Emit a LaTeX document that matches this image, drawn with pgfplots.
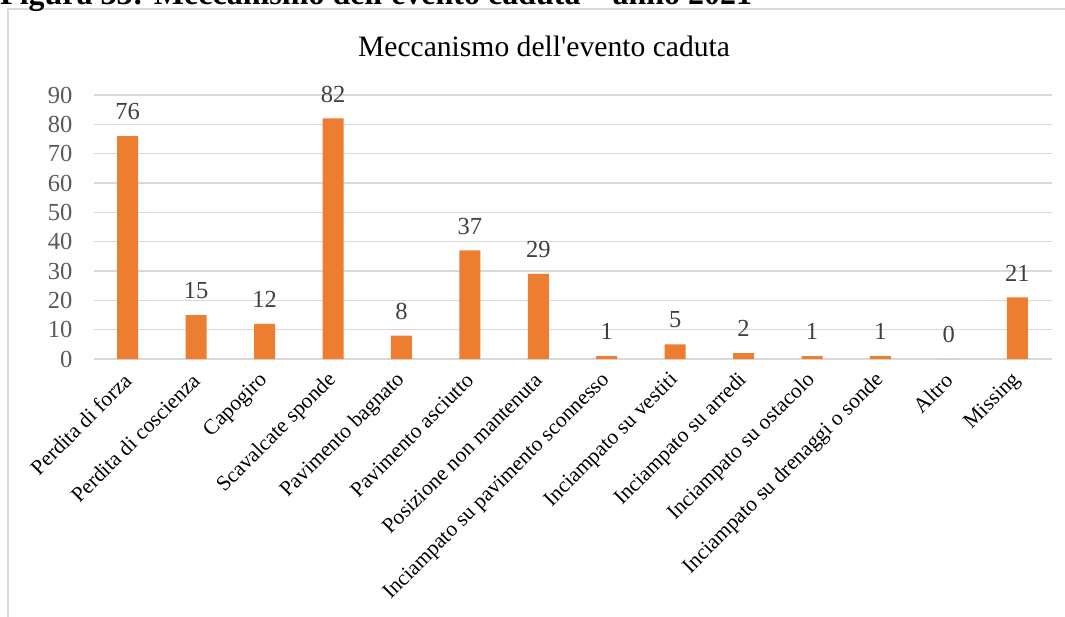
\documentclass[border=0pt]{standalone}
\usepackage{fontspec}
\setmainfont{Liberation Serif}[Ligatures=TeXOff]
\usepackage{pgfplots}
\pgfplotsset{compat=1.18}
\definecolor{barorange}{HTML}{ED7D31}
\definecolor{gridgray}{HTML}{D9D9D9}
\definecolor{ticktext}{HTML}{595959}
\definecolor{labeltext}{HTML}{404040}
\begin{document}
\begin{tikzpicture}
\useasboundingbox (0,0) rectangle (1065pt,-616pt);
\clip (0,0) rectangle (1065pt,-616pt);
\draw[gridgray, line width=1.3pt] (8pt,-9pt) rectangle (1080pt,-660pt);
\node[anchor=base west, inner sep=0pt, font=\bfseries\fontsize{32}{32}\selectfont] at (0pt,-4pt) {Figura 33: Meccanismo dell'evento caduta – anno 2021};
\node[anchor=base, inner sep=0pt, font=\fontsize{29.6}{30}\selectfont] at (544pt,-56pt) {Meccanismo dell'evento caduta};
\begin{axis}[
  at={(93.5pt,-359pt)}, anchor=south west,
  scale only axis, width=958pt, height=264pt,
  xmin=-0.5, xmax=13.5, ymin=0, ymax=90,
  ybar, bar width=21pt,
  axis x line*=bottom, axis y line*=left,
  x axis line style={gridgray, line width=1.3pt, -},
  y axis line style={draw=none},
  major tick length=0pt,
  ymajorgrids, grid style={gridgray, line width=1.3pt},
  ytick={0,10,...,90},
  /pgf/number format/assume math mode=true,
  yticklabel style={anchor=east, inner sep=0pt, xshift=-21pt, text=ticktext, font=\fontsize{24.5}{25}\selectfont},
  xtick={0,...,13},
  xticklabels={Perdita di forza, Perdita di coscienza, Capogiro, Scavalcate sponde, Pavimento bagnato, Pavimento asciutto, Posizione non mantenuta, Inciampato su pavimento sconnesso, Inciampato su vestiti, Inciampato su arredi, Inciampato su ostacolo, Inciampato su drenaggi o sonde, Altro, Missing},
  xticklabel style={yshift=-18pt, rotate=45, anchor=east, inner sep=0pt, text=black, font=\fontsize{21.5}{22}\selectfont},
  nodes near coords,
  nodes near coords align={vertical},
  every node near coord/.append style={inner sep=0pt, yshift=16pt, text=labeltext, font=\fontsize{24.5}{25}\selectfont},
]
\addplot[fill=barorange, draw=none] coordinates {
(0,76) (1,15) (2,12) (3,82) (4,8) (5,37) (6,29) (7,1) (8,5) (9,2) (10,1) (11,1) (12,0) (13,21)
};
\end{axis}
\end{tikzpicture}
\end{document}
